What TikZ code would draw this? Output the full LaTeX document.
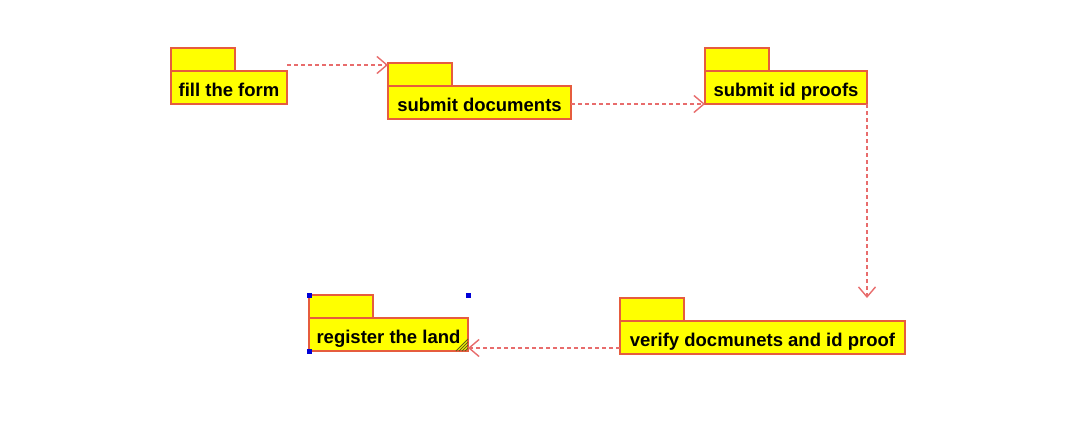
\documentclass[tikz,border=0pt]{standalone}
\usepackage{fontspec}
\setmainfont{Liberation Sans}
\usetikzlibrary{positioning,arrows.meta,calc}
\definecolor{pkgfill}{RGB}{255,255,0}
\definecolor{pkgline}{RGB}{230,92,62}
\definecolor{flowline}{RGB}{232,108,108}
\definecolor{handleblue}{RGB}{0,0,215}
\definecolor{grip}{RGB}{95,95,25}

\begin{document}
\begin{tikzpicture}
[x=1pt, y=-1pt,
pkg/.style={draw=pkgline, fill=pkgfill, line width=1.8pt, inner sep=0pt, outer sep=0pt},
body/.style={pkg, anchor=north west, minimum height=33pt, text height=18pt, text depth=0pt,
  font=\fontsize{18.5}{20}\selectfont\bfseries},
tab/.style={pkg, minimum width=64pt, minimum height=23pt},
flow/.style={draw=flowline, line width=1.6pt, dash pattern=on 4pt off 3pt,
  -{Straight Barb[length=10pt, width=17pt, line width=1.4pt]}},
handle/.style={fill=handleblue, minimum size=5pt, inner sep=0pt}]

\useasboundingbox (0,0) rectangle (1080,442);

% packages
\node[body, minimum width=116pt] (form) at (171,71) {fill the form};
\node[tab, above right=0pt and 0pt of form.north west] (formtab) {};

\node[body, minimum width=183pt] (docs) at (388,86) {submit documents};
\node[tab, above right=0pt and 0pt of docs.north west] (docstab) {};

\node[body, minimum width=162pt] (idproof) at (705,71) {submit id proofs};
\node[tab, above right=0pt and 0pt of idproof.north west] (idprooftab) {};

\node[body, minimum width=285pt] (verify) at (620,321) {verify docmunets and id proof};
\node[tab, above right=0pt and 0pt of verify.north west] (verifytab) {};

\node[body, minimum width=159pt] (register) at (309,318) {register the land};
\node[tab, above right=0pt and 0pt of register.north west] (registertab) {};

% dependencies
\coordinate (formout) at ([yshift=6pt]form.north east);
\coordinate (verifyout) at ([yshift=6pt]verify.south west);
\draw[flow] (formout) -- (docstab.west |- formout);
\draw[flow] (docs.east |- idproof.south west) -- (idproof.south west);
\draw[flow] (idproof.south east) -- (idproof.south east |- verifytab.north);
\draw[flow] (verifyout) -- (register.east |- verifyout);

% selection
\foreach \d in {3,6,9,12}
  \draw[grip, line width=0.8pt] ([xshift=-\d pt]register.south east) -- ([yshift=\d pt]register.south east);
\node[handle] (h1) at (registertab.north west) {};
\node[handle] (h2) at (registertab.north west -| register.east) {};
\node[handle] (h3) at (register.south west) {};
\end{tikzpicture}
\end{document}
